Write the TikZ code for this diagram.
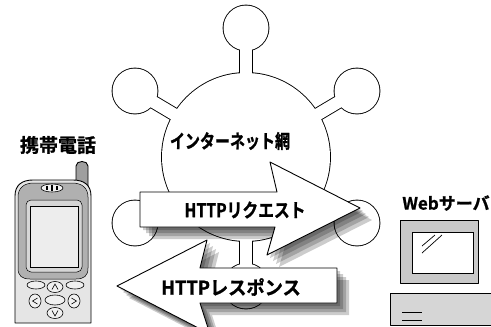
\documentclass[tikz,border=0pt]{standalone}
\usepackage{fontspec}
\usepackage{graphicx}
\newfontfamily\jp{Noto Sans CJK JP Bold}[FakeBold=1.2]
\usetikzlibrary{calc}

% arrow outlines
\newcommand\reqpath{(140,192) -- (277,192) -- (270,162) -- (360,208) -- (267,255) -- (275,227) -- (140,227) -- cycle}
\newcommand\respath{(117,286) -- (207,240) -- (200,268) -- (337,268) -- (337,303) -- (200,303) -- (210,334) -- cycle}
\newcommand\jplabel[3]{\scalebox{#2}[1]{\jp\fontsize{#1}{#1}\selectfont #3}}

\begin{document}
\begin{tikzpicture}[x=1pt,y=-1pt,
  outline/.style={draw=black, line width=0.9pt, line join=round},
  shadowlayer/.style={fill=black, opacity=0.2},
  txt/.style={inner sep=0pt, anchor=center},
  key/.style={draw=black, line width=0.6pt, fill=gray!12},
]
\useasboundingbox (0,0) rectangle (491,327);

% ---------------- internet cloud: hub with six satellites ----------------
\coordinate (hub) at (246,157);
\coordinate (sN)  at (246,28);
\coordinate (sNE) at (357,91);
\coordinate (sNW) at (135,91);
\coordinate (sSE) at (357,223);
\coordinate (sSW) at (135,223);
\coordinate (sS)  at (246,286);

% outer pass (black), then inner pass (white) leaves only the union outline
\foreach \s in {sN,sNE,sNW,sSE,sSW,sS} \draw[line width=13.8pt] (hub) -- (\s);
\foreach \s in {sN,sNE,sNW,sSE,sSW,sS} \fill[black] (\s) circle (23.4pt);
\fill[black] (hub) circle (84.9pt);
\foreach \s in {sN,sNE,sNW,sSE,sSW,sS} \draw[white, line width=12pt] (hub) -- (\s);
\foreach \s in {sN,sNE,sNW,sSE,sSW,sS} \fill[white] (\s) circle (22.5pt);
\fill[white] (hub) circle (84pt);

\node[txt] (net) at (230,141) {\jplabel{19}{0.79}{インターネット網}};

% ---------------- request arrow ----------------
\foreach \d in {3,6,9,12} \fill[shadowlayer, shift={(\d,\d)}] \reqpath;
\draw[outline, fill=white] \reqpath;
\node[txt] (req) at (245,210) {\jplabel{19}{0.83}{HTTPリクエスト}};

% ---------------- response arrow ----------------
\foreach \d in {3,6,9,12} \fill[shadowlayer, shift={(\d,\d)}] \respath;
\draw[outline, fill=white] \respath;
\node[txt] (res) at (231,287) {\jplabel{19}{0.96}{HTTPレスポンス}};

% ---------------- mobile phone ----------------
\node[txt] (phonelabel) at (58,145) {\jplabel{19}{1.0}{携帯電話}};

% antenna
\draw[outline, fill=gray!75] (76,186) -- (76,166) .. controls (76,160) and (88,160) .. (88,166) -- (88,186);
% body
\draw[outline, fill=gray!20] (15,323) -- (15,196) .. controls (15,185) and (22,180) .. (33,180)
  -- (73,180) .. controls (84,180) and (91,185) .. (91,196) -- (91,323) -- cycle;
% dark bezel
\draw[line width=0.5pt, fill=gray!62] (18,268) -- (18,197) .. controls (18,188) and (24,183) .. (34,183)
  -- (72,183) .. controls (82,183) and (88,188) .. (88,197) -- (88,268)
  .. controls (88,276) and (84,279) .. (76,279) -- (30,279) .. controls (22,279) and (18,276) .. (18,268) -- cycle;
% light ring and screen
\draw[line width=0.5pt, fill=gray!32, rounded corners=5pt] (26,200) rectangle (82,272);
\draw[line width=0.6pt, fill=gray!14] (30,206) rectangle (78,267);
% speaker
\draw[line width=0.6pt, fill=gray!10] (52,188) ellipse (11pt and 4pt);
\draw[line width=1.4pt] (47,185.8) -- (47,190.2) (52,185.3) -- (52,190.7) (57,185.8) -- (57,190.2);
% keys
\draw[key] (36,285) ellipse (9pt and 4pt);
\draw[key] (75,285) ellipse (9pt and 4pt);
\draw[key] (55,300) ellipse (10pt and 5pt);
\draw[key] (55,287) ellipse (8pt and 5.5pt);
\draw[key] (55,313) ellipse (8pt and 5.5pt);
\draw[key] (35,301) ellipse (6pt and 7pt);
\draw[key] (74,301) ellipse (6pt and 7pt);
\draw[line width=0.6pt] (52,289.5) -- (55,284) -- (58,289.5);
\draw[line width=0.6pt] (52,310.5) -- (55,316) -- (58,310.5);
\draw[line width=0.6pt] (37.5,298) -- (32.5,301) -- (37.5,304);
\draw[line width=0.6pt] (71.5,298) -- (76.5,301) -- (71.5,304);

% ---------------- web server ----------------
\node[txt] (srvlabel) at (446,203) {\jplabel{17}{1.0}{Webサーバ}};
% monitor
\draw[outline, fill=gray!42] (400,220) rectangle (478,283);
\draw[line width=0.7pt, fill=white] (412,232) rectangle (473,273);
\draw[line width=0.7pt] (435,235) -- (422,246) (442,235) -- (422,253);
% base unit
\draw[outline, fill=gray!32] (390,293) rectangle (496,325);
\draw[line width=0.7pt] (402,312) -- (422,312) (402,320) -- (422,320);
\end{tikzpicture}
\end{document}
